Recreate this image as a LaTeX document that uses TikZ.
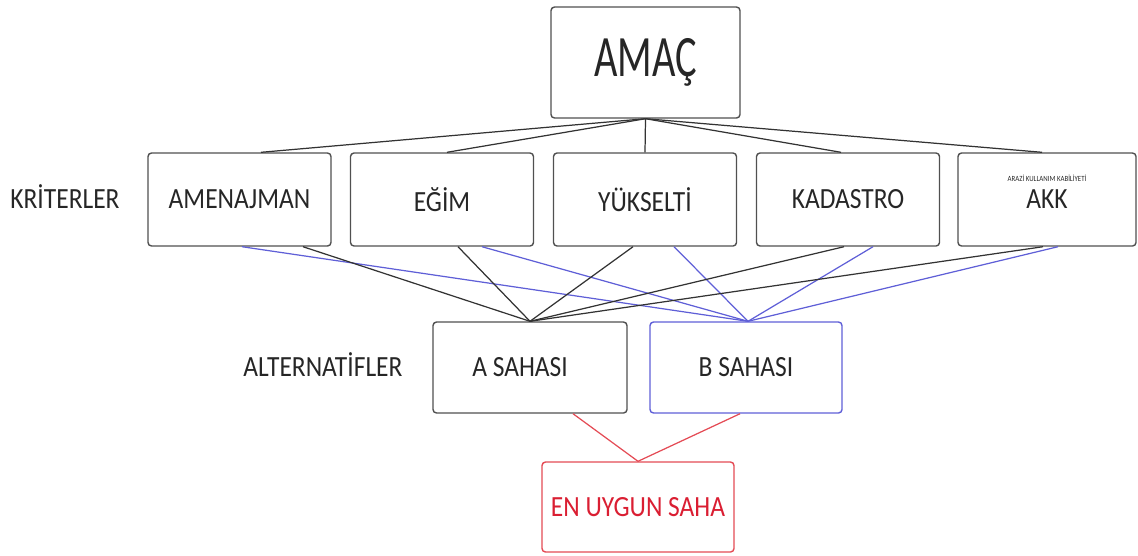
\documentclass[tikz,border=0pt]{standalone}
\usepackage{fontspec}
\setmainfont{Carlito}
\usetikzlibrary{positioning}
\definecolor{boxgray}{RGB}{80,80,80}
\definecolor{linkblue}{RGB}{95,95,215}
\definecolor{resultred}{RGB}{228,75,85}
\definecolor{textred}{RGB}{218,30,50}
\newcommand{\uzun}[1]{\scalebox{1}[1.15]{#1}}

\begin{document}
\begin{tikzpicture}[
    kutu/.style={draw=boxgray, line width=0.8pt, rounded corners=2pt, inner sep=0pt,
                 minimum width=3.66cm, minimum height=1.86cm, text=black!85,
                 font=\fontsize{14.5}{16}\selectfont},
    etiket/.style={text=black!85, font=\fontsize{14.5}{16}\selectfont},
    siyahbag/.style={black!80, line width=0.7pt},
    mavibag/.style={linkblue, line width=0.7pt},
    kirmizibag/.style={resultred, line width=0.7pt}
  ]
  \useasboundingbox (0,0) rectangle (22.76,-11.1);

  % amaç
  \node[kutu, minimum width=3.78cm, minimum height=2.22cm] (amac) at (12.91,-1.25)
    {\raisebox{-2pt}{\scalebox{1}[1.45]{\fontsize{23}{26}\selectfont AMAÇ}}};

  % kriterler
  \node[etiket] (kriterler) at (1.3,-3.94) {\uzun{KRİTERLER}};
  \node[kutu] (amenajman) at (4.79,-3.99) {\uzun{AMENAJMAN}};
  \node[kutu] (egim)      at (8.84,-3.99) {\uzun{EĞİM}};
  \node[kutu] (yukselti)  at (12.9,-3.99) {\uzun{YÜKSELTİ}};
  \node[kutu] (kadastro)  at (16.96,-3.99) {\uzun{KADASTRO}};
  \node[kutu, minimum width=3.56cm] (akk) at (20.94,-3.99) {\raisebox{-6pt}{\uzun{AKK}}};
  \node[font=\fontsize{3.9}{4}\selectfont, text=black!85, below=0.33cm of akk.north] (akktam)
    {\uzun{ARAZİ KULLANIM KABİLİYETİ}};

  % alternatifler
  \node[etiket] (alternatifler) at (6.46,-7.3) {\uzun{ALTERNATİFLER}};
  \node[kutu, minimum width=3.88cm, minimum height=1.82cm] (asaha) at (10.6,-7.35)
    {\hspace{-0.4cm}\uzun{A SAHASI}};
  \node[kutu, draw=linkblue, minimum width=3.84cm, minimum height=1.82cm] (bsaha) at (14.92,-7.35)
    {\uzun{B SAHASI}};

  % sonuç
  \node[kutu, draw=resultred, text=textred, minimum width=3.84cm, minimum height=1.8cm] (sonuc)
    at (12.76,-10.14) {\raisebox{-2pt}{\uzun{EN UYGUN SAHA}}};

  % amaç -> kriterler
  \draw[siyahbag] (amac.south) -- ([xshift=0.43cm]amenajman.north);
  \draw[siyahbag] (amac.south) -- ([xshift=0.1cm]egim.north);
  \draw[siyahbag] (amac.south) -- (yukselti.north);
  \draw[siyahbag] (amac.south) -- ([xshift=-0.14cm]kadastro.north);
  \draw[siyahbag] (amac.south) -- ([xshift=-0.1cm]akk.north);

  % kriterler -> B sahası (mavi)
  \draw[mavibag] ([xshift=0.05cm]amenajman.south) -- ([xshift=0.04cm]bsaha.north);
  \draw[mavibag] ([xshift=0.8cm]egim.south) -- ([xshift=0.04cm]bsaha.north);
  \draw[mavibag] ([xshift=0.58cm]yukselti.south) -- ([xshift=0.04cm]bsaha.north);
  \draw[mavibag] ([xshift=0.5cm]kadastro.south) -- ([xshift=0.04cm]bsaha.north);
  \draw[mavibag] ([xshift=0.22cm]akk.south) -- ([xshift=0.04cm]bsaha.north);

  % kriterler -> A sahası (siyah)
  \draw[siyahbag] ([xshift=1.27cm]amenajman.south) -- (asaha.north);
  \draw[siyahbag] ([xshift=0.32cm]egim.south) -- (asaha.north);
  \draw[siyahbag] ([xshift=-0.24cm]yukselti.south) -- (asaha.north);
  \draw[siyahbag] ([xshift=-0.08cm]kadastro.south) -- (asaha.north);
  \draw[siyahbag] ([xshift=-0.08cm]akk.south) -- (asaha.north);

  % alternatifler -> en uygun saha
  \draw[kirmizibag] ([xshift=0.86cm]asaha.south) -- (sonuc.north);
  \draw[kirmizibag] ([xshift=-0.12cm]bsaha.south) -- (sonuc.north);

\end{tikzpicture}
\end{document}
